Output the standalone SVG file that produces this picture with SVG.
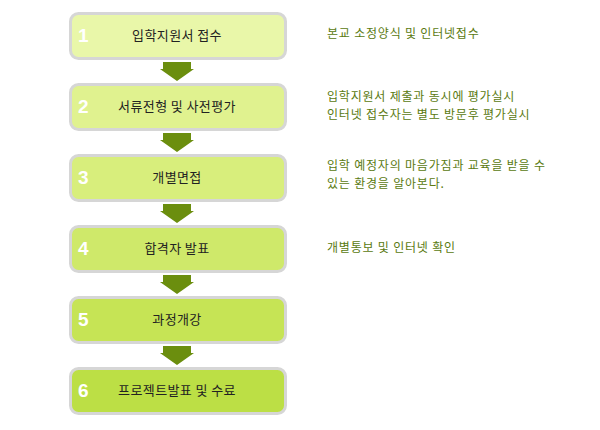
<svg xmlns="http://www.w3.org/2000/svg" width="600" height="430" viewBox="0 0 600 430">
<style>
.box{stroke:#d6d6d6;stroke-width:3}
.num{font:bold 19px "Liberation Sans",Arial,sans-serif;fill:#fff}
.lbl{font:13px "Noto Sans CJK KR",sans-serif;fill:#222;text-anchor:middle;letter-spacing:0.4px}
.note{font:12px "Noto Sans CJK KR",sans-serif;fill:#5a7a10;letter-spacing:0.8px}
.arr{fill:#6b8e0e}
</style>
<rect width="600" height="430" fill="#fff"/>
<g id="connectors">
<polygon class="arr" points="163,62 191,62 191,69 194,69 177,81 160,69 163,69"/>
<polygon class="arr" points="163,133 191,133 191,140 194,140 177,152 160,140 163,140"/>
<polygon class="arr" points="163,204 191,204 191,211 194,211 177,223 160,211 163,211"/>
<polygon class="arr" points="163,275 191,275 191,282 194,282 177,294 160,282 163,282"/>
<polygon class="arr" points="163,346 191,346 191,353 194,353 177,365 160,353 163,353"/>
</g>
<g id="n1"><rect class="box" x="70.5" y="13.5" width="215" height="45" rx="8" fill="#e9f7a9"/><text class="num" x="78" y="42">1</text><text class="lbl" x="177" y="40">입학지원서 접수</text></g>
<g id="n2"><rect class="box" x="70.5" y="84.5" width="215" height="45" rx="8" fill="#e0f28f"/><text class="num" x="78" y="113">2</text><text class="lbl" x="177" y="111">서류전형 및 사전평가</text></g>
<g id="n3"><rect class="box" x="70.5" y="155.5" width="215" height="45" rx="8" fill="#d8ee7c"/><text class="num" x="78" y="184">3</text><text class="lbl" x="177" y="182">개별면접</text></g>
<g id="n4"><rect class="box" x="70.5" y="226.5" width="215" height="45" rx="8" fill="#cfe96a"/><text class="num" x="78" y="255">4</text><text class="lbl" x="177" y="253">합격자 발표</text></g>
<g id="n5"><rect class="box" x="70.5" y="297.5" width="215" height="45" rx="8" fill="#c6e455"/><text class="num" x="78" y="326">5</text><text class="lbl" x="177" y="324">과정개강</text></g>
<g id="n6"><rect class="box" x="70.5" y="368.5" width="215" height="45" rx="8" fill="#bcdf45"/><text class="num" x="78" y="397">6</text><text class="lbl" x="177" y="395">프로젝트발표 및 수료</text></g>
<g id="notes">
<text class="note" x="327" y="38">본교 소정양식 및 인터넷접수</text>
<text class="note" x="327" y="101">입학지원서 제출과 동시에 평가실시</text>
<text class="note" x="327" y="119">인터넷 접수자는 별도 방문후 평가실시</text>
<text class="note" x="327" y="170">입학 예정자의 마음가짐과 교육을 받을 수</text>
<text class="note" x="327" y="188">있는 환경을 알아본다.</text>
<text class="note" x="327" y="252">개별통보 및 인터넷 확인</text>
</g>
</svg>
